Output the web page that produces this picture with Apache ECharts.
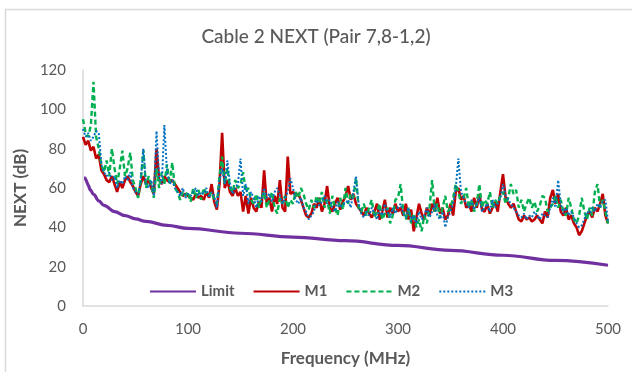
<!DOCTYPE html>
<html>
<head>
<meta charset="utf-8">
<script src="https://cdn.jsdelivr.net/npm/echarts@6/dist/echarts.min.js"></script>
<style>
  html, body { margin: 0; padding: 0; background: #fff; }
  #chart { width: 632px; height: 372px; }
</style>
</head>
<body>
<div id="chart"></div>
<script>
// Sweep grid: 0 to 500 MHz in 2.5 MHz steps (201 points)
const SWEEP_START = 0;
const SWEEP_STEP = 2.5;
const SWEEP_POINTS = 201;
const freqMHz = Array.from({ length: SWEEP_POINTS }, (_, i) => SWEEP_START + i * SWEEP_STEP);

// Measured NEXT (dB), one value per sweep point
const m1 = [
  86, 82, 84, 79, 81, 75, 77, 69, 67, 64, 63, 66, 62, 58, 63, 60, 64, 66, 63, 61,
  58, 56, 62, 66, 62, 64, 60, 57, 80, 64, 62, 66, 64, 63, 64, 62, 60, 58, 56, 57,
  56, 55, 54, 57, 55, 56, 54, 58, 55, 62, 53, 49, 62, 88, 60, 64, 58, 56, 60, 56,
  58, 48, 56, 47, 55, 50, 48, 53, 50, 69, 52, 55, 48, 56, 52, 64, 50, 48, 76, 57,
  58, 56, 57, 54, 50, 46, 45, 47, 52, 50, 55, 48, 52, 61, 50, 48, 52, 55, 49, 53,
  56, 61, 54, 57, 52, 50, 48, 46, 50, 47, 45, 48, 52, 44, 48, 54, 45, 50, 47, 52,
  48, 50, 46, 52, 44, 49, 38, 45, 52, 47, 44, 50, 46, 52, 48, 55, 47, 50, 44, 46,
  52, 46, 58, 60, 54, 56, 50, 52, 48, 55, 50, 57, 49, 48, 52, 47, 50, 53, 48, 58,
  67, 55, 52, 50, 52, 48, 44, 43, 46, 44, 45, 43, 44, 46, 44, 42, 48, 45, 55, 59,
  52, 57, 48, 46, 50, 44, 46, 42, 40, 36, 38, 42, 46, 48, 45, 50, 48, 52, 57, 46, 42
];
const m2 = [
  95, 88, 86, 92, 114, 86, 80, 72, 68, 74, 66, 80, 70, 62, 70, 79, 66, 70, 78, 64,
  60, 55, 64, 79, 60, 66, 62, 55, 70, 60, 68, 62, 72, 62, 73, 60, 58, 54, 58, 56,
  58, 53, 60, 55, 59, 54, 60, 57, 56, 58, 54, 52, 66, 76, 62, 70, 60, 58, 64, 60,
  62, 68, 58, 60, 54, 52, 57, 50, 55, 58, 50, 54, 58, 50, 47, 55, 52, 56, 50, 54,
  52, 58, 55, 60, 57, 52, 49, 54, 50, 56, 52, 58, 50, 54, 47, 56, 50, 46, 55, 49,
  60, 52, 57, 55, 65, 50, 48, 52, 46, 50, 54, 45, 48, 52, 44, 47, 50, 42, 46, 54,
  55, 62, 48, 44, 50, 42, 47, 40, 44, 38, 46, 42, 50, 64, 48, 52, 45, 50, 56, 48,
  50, 55, 62, 58, 52, 55, 60, 50, 54, 48, 52, 62, 50, 54, 52, 58, 50, 54, 52, 56,
  58, 52, 55, 62, 57, 59, 50, 54, 48, 52, 55, 50, 53, 48, 51, 56, 55, 48, 50, 52,
  56, 50, 54, 48, 46, 55, 50, 44, 42, 46, 55, 48, 44, 50, 46, 58, 62, 50, 54, 48, 42
];
const m3 = [
  90, 86, 88, 84, 86, 89, 88, 72, 68, 66, 68, 64, 66, 60, 64, 62, 66, 64, 68, 60,
  58, 57, 64, 80, 62, 60, 64, 56, 89, 66, 62, 92, 68, 62, 64, 60, 58, 56, 60, 55,
  57, 56, 58, 60, 56, 58, 57, 60, 55, 58, 56, 50, 64, 70, 62, 74, 62, 57, 60, 62,
  75, 56, 62, 52, 58, 55, 50, 56, 53, 60, 55, 57, 53, 58, 60, 56, 52, 55, 58, 65,
  60, 54, 52, 55, 50, 48, 44, 46, 48, 54, 51, 53, 56, 52, 54, 50, 48, 53, 50, 52,
  52, 54, 50, 58, 66, 52, 47, 45, 48, 46, 50, 47, 44, 49, 46, 52, 48, 45, 50, 47,
  50, 52, 47, 45, 50, 43, 46, 42, 48, 44, 46, 50, 45, 48, 52, 46, 44, 48, 40, 45,
  48, 52, 60, 75, 58, 55, 52, 50, 54, 49, 52, 55, 48, 50, 52, 48, 54, 50, 52, 55,
  62, 56, 54, 52, 50, 48, 46, 45, 47, 44, 46, 45, 48, 46, 44, 47, 46, 45, 50, 55,
  50, 64, 52, 47, 50, 46, 48, 45, 42, 40, 41, 44, 48, 47, 50, 48, 52, 50, 53, 54, 43
];

// Limit line (dB) at its own frequencies
const limitFreq = [1, 2, 3, 4, 5, 7, 10, 15, 20, 30, 40, 50, 60, 80, 100, 150, 200, 250, 300, 350, 400, 450, 500];
const limitVals = [65, 65, 64, 62.5, 61.3, 59, 56.8, 53.5, 51.2, 48, 46, 44.3, 43, 41, 39.5, 37, 35, 33.2, 30.8, 28.3, 25.8, 23.2, 20.7];

const xTicks = { min: 0, max: 500, step: 100 };
const yTicks = { min: 0, max: 120, step: 20 };

const FONT = 'Lato, "Open Sans", sans-serif';
const GREY = '#595959';

const pairs = (xs, ys) => xs.map((x, i) => [x, ys[i]]);

const chart = echarts.init(document.getElementById('chart'), null, { renderer: 'canvas' });
chart.setOption({
  animation: false,
  backgroundColor: '#ffffff',
  title: {
    text: 'Cable 2 NEXT (Pair 7,8-1,2)',
    left: 'center',
    top: 22,
    textStyle: { fontFamily: FONT, fontSize: 19, fontWeight: 500, color: GREY }
  },
  graphic: [{
    type: 'rect',
    shape: { x: 5.5, y: 9.5, width: 800, height: 600 },
    style: { fill: 'none', stroke: '#d9d9d9', lineWidth: 1.5 },
    silent: true
  }],
  grid: { left: 83, right: 24, top: 70, bottom: 63 },
  legend: {
    data: ['Limit', 'M1', 'M2', 'M3'],
    left: 144,
    top: 279,
    itemWidth: 46,
    itemHeight: 12,
    itemGap: 18,
    itemStyle: { opacity: 0 },
    textStyle: { fontFamily: FONT, fontSize: 15, fontWeight: 'bold', color: GREY }
  },
  xAxis: {
    type: 'value',
    min: xTicks.min,
    max: xTicks.max,
    interval: xTicks.step,
    name: 'Frequency (MHz)',
    nameLocation: 'middle',
    nameGap: 44,
    nameTextStyle: { fontFamily: FONT, fontSize: 17, fontWeight: 'bold', color: GREY },
    axisLine: { lineStyle: { color: '#d9d9d9', width: 1.5 } },
    axisTick: { show: false },
    splitLine: { show: false },
    axisLabel: { fontFamily: FONT, fontSize: 15, color: GREY, margin: 16 }
  },
  yAxis: {
    type: 'value',
    min: yTicks.min,
    max: yTicks.max,
    interval: yTicks.step,
    name: 'NEXT (dB)',
    nameLocation: 'middle',
    nameGap: 47,
    nameTextStyle: { fontFamily: FONT, fontSize: 17, fontWeight: 'bold', color: GREY },
    axisLine: { show: true, lineStyle: { color: '#d9d9d9', width: 1.5 } },
    axisTick: { show: false },
    splitLine: { show: false },
    axisLabel: { fontFamily: FONT, fontSize: 15, color: GREY, margin: 17 }
  },
  series: [
    {
      name: 'Limit', type: 'line', showSymbol: false, symbol: 'none',
      smooth: 0.4, smoothMonotone: 'x',
      data: pairs(limitFreq, limitVals),
      lineStyle: { color: '#7030A0', width: 3.2 },
      itemStyle: { color: '#7030A0' }
    },
    {
      name: 'M1', type: 'line', showSymbol: false, symbol: 'none',
      data: pairs(freqMHz, m1),
      lineStyle: { color: '#C00000', width: 2.6 },
      itemStyle: { color: '#C00000' }
    },
    {
      name: 'M2', type: 'line', showSymbol: false, symbol: 'none',
      data: pairs(freqMHz, m2),
      lineStyle: { color: '#00B050', width: 2.4, type: [5, 3] },
      itemStyle: { color: '#00B050' }
    },
    {
      name: 'M3', type: 'line', showSymbol: false, symbol: 'none',
      data: pairs(freqMHz, m3),
      lineStyle: { color: '#0070C0', width: 2, type: [2, 2] },
      itemStyle: { color: '#0070C0' }
    }
  ]
});
</script>
</body>
</html>
